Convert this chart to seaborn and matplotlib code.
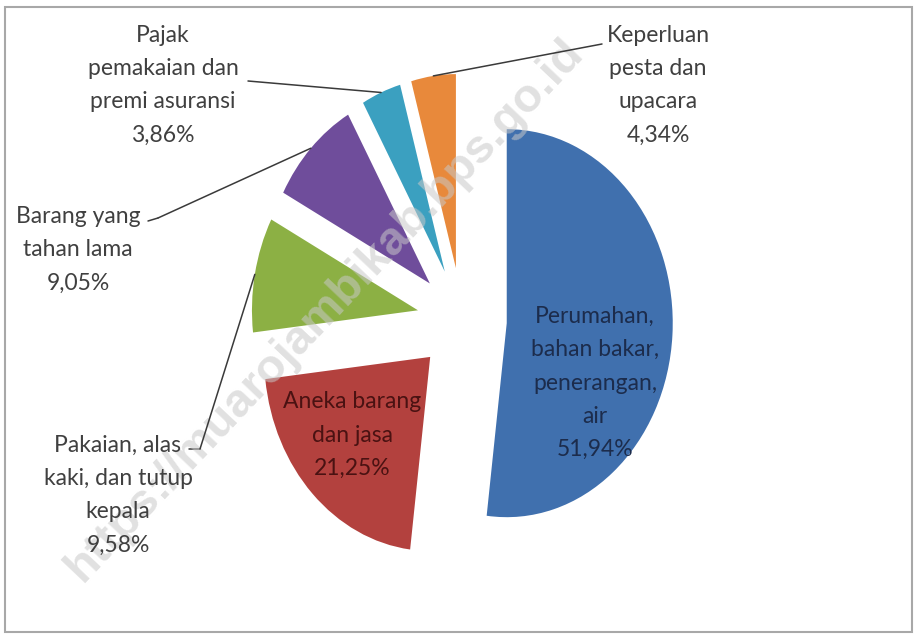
import numpy as np
import matplotlib
matplotlib.use("Agg")
import matplotlib.pyplot as plt
import seaborn as sns

# data
categories = [
    "Perumahan,\nbahan bakar,\npenerangan,\nair",
    "Aneka barang\ndan jasa",
    "Pakaian, alas\nkaki, dan tutup\nkepala",
    "Barang yang\ntahan lama",
    "Pajak\npemakaian dan\npremi asuransi",
    "Keperluan\npesta dan\nupacara",
]
shares = [51.94, 21.25, 9.58, 9.05, 3.86, 4.34]
pct_labels = ["51,94%", "21,25%", "9,58%", "9,05%", "3,86%", "4,34%"]
colors = ["#4070ae", "#b3413e", "#8cb044", "#6f4d9b", "#3ba0c0", "#e8893b"]

sns.set_theme(style="white")
plt.rcParams["font.family"] = ["Lato", "DejaVu Sans"]

W, H = 914, 635
fig = plt.figure(figsize=(W / 100, H / 100), dpi=100)
ax = fig.add_axes([0, 0, 1, 1])

wedges, _ = ax.pie(shares, colors=colors, startangle=90, counterclock=False,
                   explode=[0.27] * len(shares), radius=1, center=(0, 0),
                   wedgeprops=dict(linewidth=0))

# pie centre at (462, 320) px, radius 166 px wide and 194 px tall (stretched)
cx, cy, rx, ry = 462, 320, 166, 194
ax.set_aspect("auto")
ax.set_xlim(-cx / rx, (W - cx) / rx)
ax.set_ylim(-(H - cy) / ry, cy / ry)
ax.set_axis_off()


def px(x, y):
    return (x / W, 1 - y / H)


txt = dict(fontsize=16.5, ha="center", va="center", linespacing=1.72,
           transform=ax.transAxes, zorder=5)

# inside labels
ax.text(*px(595, 383), categories[0] + "\n" + pct_labels[0], color="#1c2c4c", **txt)
ax.text(*px(352, 435), categories[1] + "\n" + pct_labels[1], color="#4a1212", **txt)

# outside labels
out_pos = {2: (118, 495), 3: (78, 250), 4: (163, 85), 5: (658, 85)}
for i, (x, y) in out_pos.items():
    ax.text(*px(x, y), categories[i] + "\n" + pct_labels[i], color="#404040", **txt)


def arc_point(w):
    mid = np.deg2rad((w.theta1 + w.theta2) / 2)
    return (w.center[0] + w.r * np.cos(mid), w.center[1] + w.r * np.sin(mid))


line = dict(arrowstyle="-", color="#3a3a3a", lw=1.1, shrinkA=0, shrinkB=0)
# leader lines: (start of line near label, bend point) in pixels
leaders = {
    2: [(189, 449), (200, 449)],
    3: [(148, 221), (158, 218)],
    4: [(248, 81)],
    5: [(602, 44)],
}
for i, pts in leaders.items():
    for a, b in zip(pts[:-1], pts[1:]):
        ax.annotate("", xy=px(*b), xycoords="axes fraction", xytext=px(*a),
                    textcoords="axes fraction", arrowprops=line)
    ax.annotate("", xy=arc_point(wedges[i]), xycoords="data", xytext=px(*pts[-1]),
                textcoords="axes fraction", arrowprops=line, zorder=4)

# watermark
ax.text(*px(325, 310), "https://muarojambikab.bps.go.id", rotation=46.5,
        fontsize=34, fontweight="bold", family="Liberation Sans",
        color="#c8c8c8", alpha=0.55, ha="center", va="center",
        transform=ax.transAxes, zorder=3)

# outer frame
fig.patches.append(plt.Rectangle((5 / W, 3 / H), 907 / W, 625 / H,
                                 transform=fig.transFigure, fill=False,
                                 edgecolor="#a8a8a8", linewidth=1.5))

fig.savefig("out.png", dpi=100)
